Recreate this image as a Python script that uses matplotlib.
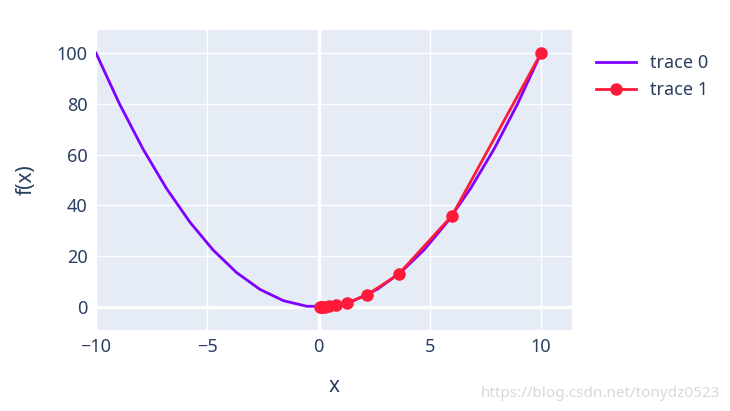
import matplotlib
matplotlib.use("Agg")
import matplotlib.pyplot as plt

x0 = [-10.0, -8.947, -7.895, -6.842, -5.789, -4.737, -3.684, -2.632, -1.579, -0.526,
      0.526, 1.579, 2.632, 3.684, 4.737, 5.789, 6.842, 7.895, 8.947, 10.0]
y0 = [100.0, 80.05, 62.33, 46.81, 33.52, 22.44, 13.57, 6.93, 2.49, 0.28,
      0.28, 2.49, 6.93, 13.57, 22.44, 33.52, 46.81, 62.33, 80.05, 100.0]
x1 = [10.0, 6.0, 3.6, 2.16, 1.296, 0.7776, 0.4666, 0.2799, 0.168, 0.1008, 0.0605]
y1 = [100.0, 36.0, 12.96, 4.666, 1.680, 0.605, 0.218, 0.078, 0.028, 0.010, 0.004]
xticks = [-10, -5, 0, 5, 10]
yticks = [0, 20, 40, 60, 80, 100]

plt.rcParams['font.family'] = ['Noto Sans', 'DejaVu Sans']
fg = '#2a3f5f'
fig = plt.figure(figsize=(7.3, 4.11), dpi=100)
ax = fig.add_axes([96/730, 1-330/411, (572-96)/730, 300/411])
ax.set_facecolor('#E5ECF6')
ax.plot(x0, y0, color='#8000ff', lw=2, label='trace 0', zorder=3)
ax.plot(x1, y1, color='#ff1a3a', lw=2, marker='o', ms=8, label='trace 1', zorder=4)
ax.set_xlim(-10, 11.39)
ax.set_ylim(-9.06, 109.1)
ax.set_xticks(xticks)
ax.set_xticklabels(['\u221210', '\u22125', '0', '5', '10'])
ax.set_yticks(yticks)
ax.grid(color='white', lw=1, zorder=0)
ax.axvline(0, color='white', lw=2.5, zorder=1)
ax.axhline(0, color='white', lw=2.5, zorder=1)
for s in ax.spines.values():
    s.set_visible(False)
ax.tick_params(length=0, labelsize=13, colors=fg, pad=6)
ax.set_xlabel('x', fontsize=15, color=fg, labelpad=14)
ax.set_ylabel('f(x)', fontsize=15, color=fg, labelpad=14)
fig.legend(loc='upper left', bbox_to_anchor=(580/730, 1-38/411), frameon=False,
           fontsize=13, labelcolor=fg, handlelength=2.2)
fig.text(720/730, 1-393/411, 'https://blog.csdn.net/tonydz0523', ha='right', va='center',
         fontsize=11, color='#d8d8d8')
fig.savefig('out.png', dpi=100)
